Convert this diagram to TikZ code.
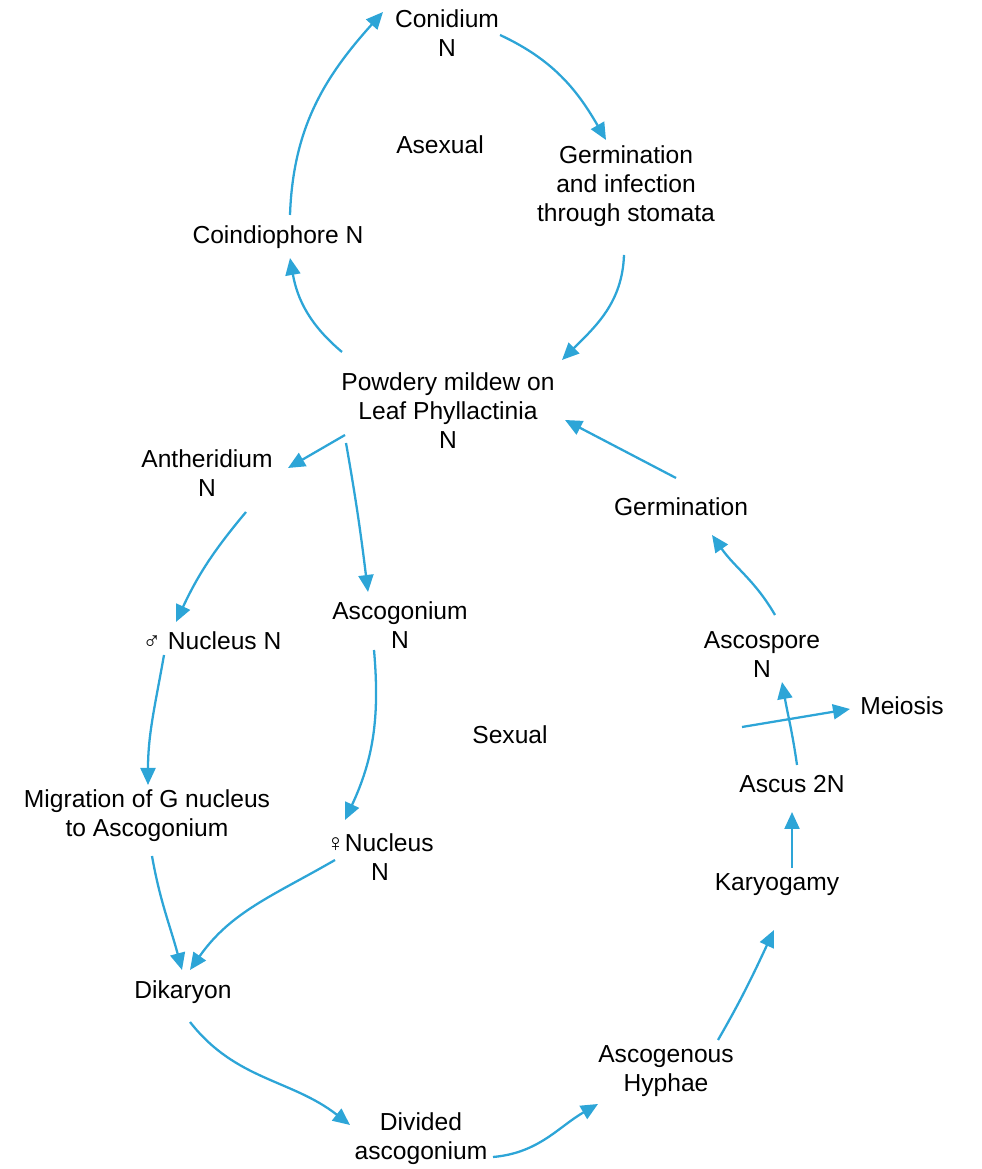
\documentclass[tikz,border=0pt]{standalone}
\usepackage{fontspec}
\setmainfont{Liberation Sans}
\usepackage{tikz}
\usetikzlibrary{arrows.meta}
\definecolor{cyc}{RGB}{45,165,215}

\begin{document}
\begin{tikzpicture}[x=0.02cm, y=0.02cm,
    lbl/.style={align=center, inner sep=1pt, text=black,
      font=\fontsize{14}{16.5}\selectfont},
    arr/.style={cyc, line width=1.3pt, -{Triangle[length=3.4mm, width=3mm]}}]
  \useasboundingbox (0,0) rectangle (981,1169);

  % asexual loop
  \node[lbl] (conidium) at (447,1136) {Conidium\\N};
  \node[lbl] (asexual) at (440,1024) {Asexual};
  \node[lbl] (germ) at (626,983) {Germination\\and infection\\through stomata};
  \node[lbl] (coin) at (278,932) {Coindiophore N};
  \node[lbl] (mildew) at (448,758) {Powdery mildew on\\Leaf Phyllactinia\\N};

  % sexual loop
  \node[lbl] (anther) at (207,696) {Antheridium\\N};
  \node[lbl] (germtwo) at (681,662) {Germination};
  \node[lbl] (ascog) at (400,544) {Ascogonium\\N};
  \node[lbl] (male) at (212,528) {♂ Nucleus N};
  \node[lbl] (ascosp) at (762,514) {Ascospore\\N};
  \node[lbl] (meiosis) at (902,463) {Meiosis};
  \node[lbl] (sexual) at (510,434) {Sexual};
  \node[lbl] (ascus) at (792,385) {Ascus 2N};
  \node[lbl] (migr) at (147,353) {Migration of G nucleus\\to Ascogonium};
  \node[lbl] (female) at (380,312) {♀Nucleus\\N};
  \node[lbl] (karyo) at (777,284) {Karyogamy};
  \node[lbl] (dikar) at (183,177) {Dikaryon};
  \node[lbl] (hyphae) at (666,98) {Ascogenous\\Hyphae};
  \node[lbl] (divided) at (421,30) {Divided\\ascogonium};
  \coordinate (meiostart) at (742,442);

  \draw[arr] ([shift={(12,22)}]coin.center) to[out=88, in=228] ([shift={(-64,21)}]conidium.center);
  \draw[arr] ([shift={(53,-2)}]conidium.center) to[out=-25, in=120] ([shift={(-20,46)}]germ.center);
  \draw[arr] ([shift={(-2,-69)}]germ.center) to[out=-92, in=45] ([shift={(114,51)}]mildew.center);
  \draw[arr] ([shift={(-106,59)}]mildew.center) to[out=140, in=-80] ([shift={(12,-21)}]coin.center);

  \draw[arr] ([shift={(-103,-24)}]mildew.center) -- ([shift={(81,5)}]anther.center);
  \draw[arr] ([shift={(-102,-32)}]mildew.center) to[out=-80, in=97] ([shift={(-32,33)}]ascog.center);
  \draw[arr] ([shift={(39,-39)}]anther.center) to[out=-130, in=65] ([shift={(-36,19)}]male.center);
  \draw[arr] ([shift={(-48,-14)}]male.center) to[out=-100, in=90] ([shift={(1,31)}]migr.center);
  \draw[arr] ([shift={(-26,-25)}]ascog.center) to[out=-85, in=65] ([shift={(-35,37)}]female.center);
  \draw[arr] ([shift={(5,-40)}]migr.center) to[out=-80, in=105] ([shift={(-1,22)}]dikar.center);
  \draw[arr] ([shift={(-45,-3)}]female.center) to[out=-150, in=55] ([shift={(7,22)}]dikar.center);
  \draw[arr] ([shift={(7,-30)}]dikar.center) to[out=-52, in=142] ([shift={(-71,14)}]divided.center);
  \draw[arr] ([shift={(72,-18)}]divided.center) to[out=5, in=-150] ([shift={(-68,-33)}]hyphae.center);
  \draw[arr] ([shift={(52,31)}]hyphae.center) to[out=60, in=-115] ([shift={(-3,-45)}]karyo.center);
  \draw[arr] ([shift={(15,17)}]karyo.center) -- ([shift={(0,-28)}]ascus.center);
  \draw[arr] ([shift={(5,19)}]ascus.center) to[out=98, in=-80] ([shift={(20,-27)}]ascosp.center);
  \draw[arr] (meiostart) -- ([shift={(-52,-3)}]meiosis.center);
  \draw[arr] ([shift={(13,40)}]ascosp.center) to[out=120, in=-55] ([shift={(31,-28)}]germtwo.center);
  \draw[arr] ([shift={(-5,29)}]germtwo.center) -- ([shift={(117,-9)}]mildew.center);
\end{tikzpicture}
\end{document}
